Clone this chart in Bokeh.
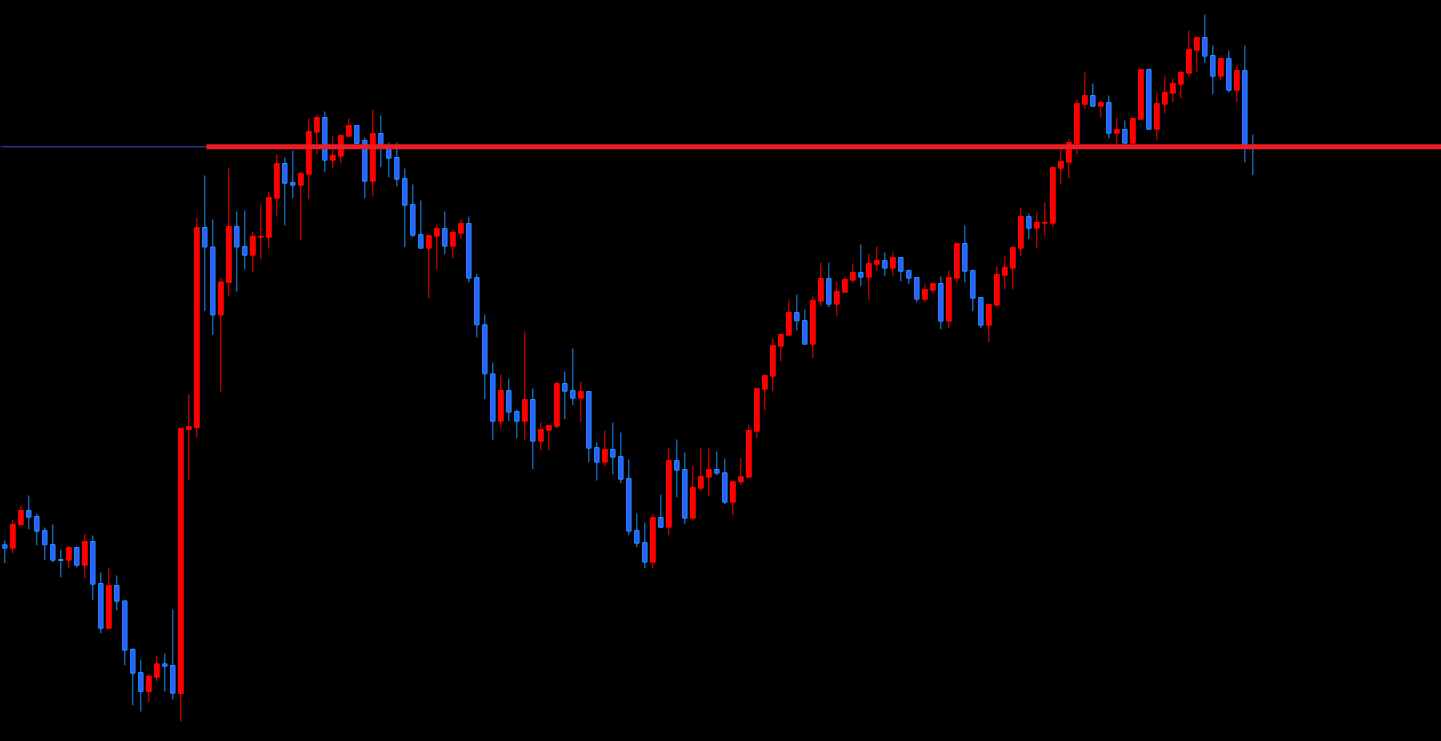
from bokeh.plotting import figure
from bokeh.models import Range1d, Span, ColumnDataSource
from bokeh.embed import file_html
from bokeh.resources import INLINE

# OHLC values (price units), one per bar
opens = [196.7, 193.3, 217, 231, 225, 211, 197, 182, 181.3, 194, 176.3, 200, 158, 113.3, 156, 140.6,
         92, 69, 50, 64.3, 77.7, 76, 48, 312, 314, 514, 494.5, 426.5, 459, 515, 495, 486.3, 504.3, 504.3,
         543.3, 578, 559, 556.3, 567.3, 609.3, 624, 581.3, 585.3, 605.3, 616, 601, 560.3, 608, 594, 584,
         563, 537, 507, 493.3, 505.3, 513, 495.3, 508.3, 518, 464, 416.7, 367.7, 320.3, 351, 330, 320.3,
         342, 300.3, 311.3, 315.3, 358, 351, 343.3, 350, 294, 279.3, 292, 285, 263, 211, 199, 179.3, 224,
         214.3, 281, 272, 223.3, 253.3, 264.3, 272, 268.7, 239.3, 259.7, 264.3, 310.3, 352.3, 365.3, 395.3,
         406.3, 429, 421, 397.3, 440.3, 463, 437.3, 449.3, 461.3, 469, 464.3, 477.3, 481, 473.3, 484, 471,
         464, 442.3, 451.3, 458, 420.3, 463.3, 498, 471, 444, 416.3, 436.3, 466.3, 473.3, 493.3, 525,
         513.3, 518.3, 518.3, 573.3, 579.3, 598, 637.3, 646, 635.3, 639, 608.3, 612, 598.3, 622.3, 672,
         612.3, 637.3, 648.3, 657.3, 668.3, 691.3, 704, 686, 665.3, 683, 651.3, 671, 595]
highs = [201, 222, 236, 246, 227.7, 214, 217, 191.7, 195.7, 195, 207.3, 206, 169, 174, 166, 141,
         93.7, 81.7, 67.2, 85.7, 88, 132, 313, 347, 524, 566, 522, 464, 573, 530, 531, 510, 537, 550,
         587, 584, 591, 570, 623, 627, 630, 605, 607, 623, 616, 604, 632, 626, 599, 599,
         573, 557, 541, 506, 517, 530, 512, 522, 525, 467.3, 427, 379, 367, 363, 332, 410,
         353, 319, 316, 360, 370, 393, 360, 350, 299, 311, 319, 309, 282, 228, 219, 228, 247,
         294, 302, 289, 276, 293, 293, 290, 283, 260.7, 283.7, 317, 353, 366, 403, 408,
         441, 447, 432, 445, 479, 479, 460, 465, 478, 497, 488, 495, 489, 489, 484, 472,
         464, 457, 458, 465, 471, 498, 516, 472, 444, 437, 475, 485, 495, 534, 528,
         530, 539, 575, 593, 603, 642, 669, 658, 641, 646, 624, 621, 624, 672, 673,
         649, 665, 663, 671, 711, 705, 727, 696, 683, 691, 676, 696, 607]
lows = [178.3, 188.3, 216, 212.3, 196.3, 181.3, 179.3, 164.3, 173.3, 174.3, 163.3, 141.3, 108.3, 112, 131.3, 76.3,
        36.3, 30, 39.2, 60.3, 50, 42, 20, 262, 304.3, 430.5, 406.5, 350, 445.4, 450, 472, 469.3, 482.3, 493.3,
        526, 516, 543.3, 501.3, 542.3, 587.3, 569.3, 573.3, 578.3, 605.3, 597.3, 543.3, 545.3, 574.3, 564.3, 555.3,
        494.3, 504.3, 493.3, 443.3, 472.3, 487.3, 483.3, 502.3, 459.3, 404, 342.3, 301.3, 313.3, 320.3, 303.3, 301.3,
        272.3, 291.3, 291.3, 313.3, 322.3, 336.3, 319.3, 279.3, 261, 275.3, 267.3, 258.3, 206.3, 194.3, 173.3, 173.3, 213.3,
        206.3, 244.3, 217.3, 221.3, 250.3, 245.3, 266.3, 237.3, 226.3, 256.3, 264.3, 303.3, 331.3, 350.3, 380.3,
        406.3, 411.3, 397.3, 383.3, 435.3, 434.3, 425.3, 448.3, 458.3, 455.3, 441.3, 470.3, 465.3, 465.3, 460.3, 457.3,
        439.3, 439.3, 448.3, 412.3, 413.3, 458.3, 459.3, 430.3, 413.3, 399.3, 435.3, 452.3, 452.3, 485.3, 502.3,
        493.3, 505.3, 514.3, 557.3, 563.3, 587.3, 632.3, 635.3, 624.3, 603.3, 597.7, 598.3, 597.7, 622.3, 612.3,
        601.3, 628.3, 639.3, 643.3, 664.3, 670, 678.3, 647.3, 661.3, 649.3, 639.3, 579.3, 566.3]
closes = [193.3, 217, 231, 224.3, 210.3, 196.7, 181.3, 181, 194, 176.3, 200, 157.3, 113.3, 156, 140.3, 91.3,
          68.3, 50, 65.4, 77.7, 75.2, 48.3, 313, 315, 514, 494.5, 426.5, 459.5, 515, 494.5, 486.3, 505, 505, 544,
          578, 558.3, 556.3, 568, 610, 624, 581.3, 586, 606, 616, 598, 560.3, 608, 595, 583.3, 562.3,
          536.3, 506.3, 493.3, 506, 513, 495.3, 509, 518, 463.3, 416.7, 367.7, 320.3, 351, 329.3, 320.3, 342,
          300.3, 312, 316, 358, 350.3, 343.3, 350, 293.3, 279.3, 292, 284.3, 262.3, 210.3, 198.3, 179.3, 224, 214.3,
          281, 271.3, 223.3, 254, 265, 272, 268.3, 239.3, 259.7, 264.7, 311, 353, 366, 396, 407,
          429, 420.7, 397.3, 441, 463, 437.3, 450, 462, 469, 464.3, 478, 481, 473.3, 484, 470.3, 463.3,
          442.3, 452, 458, 420.3, 464, 498, 470.3, 443.3, 416.3, 437, 467, 474, 494, 525, 513.3,
          519, 519, 574, 580, 599, 638, 646, 635.3, 639, 608.3, 612, 598.3, 623, 672, 612.3,
          638, 649, 658, 669, 692, 704, 685.3, 665.3, 683, 651.3, 671, 596, 594]

# Horizontal level line
level_price = 594.7
level_start_bar = 25.2

UP_COLOR = "#FF0000"
DOWN_FILL = "#2E5CFF"
DOWN_LINE = "#1E90FF"

n = len(opens)
idx = list(range(n))
up = [c >= o for o, c in zip(opens, closes)]
tops = [max(o, c) for o, c in zip(opens, closes)]
bots = [min(o, c) for o, c in zip(opens, closes)]

def sub(mask):
    sel = [i for i in idx if mask[i]]
    return ColumnDataSource(dict(
        x=sel,
        high=[highs[i] for i in sel],
        low=[lows[i] for i in sel],
        top=[tops[i] for i in sel],
        bottom=[bots[i] for i in sel],
    ))

src_up = sub(up)
src_dn = sub([not u for u in up])

p = figure(width=1441, height=741, output_backend="svg", toolbar_location=None,
           x_range=Range1d(-0.54, 179.58), y_range=Range1d(0, 741),
           background_fill_color="black", border_fill_color="black",
           min_border=0, min_border_left=0, min_border_right=0,
           min_border_top=0, min_border_bottom=0)
p.outline_line_color = None
p.xgrid.visible = False
p.ygrid.visible = False
p.xaxis.visible = False
p.yaxis.visible = False

thin = Span(location=level_price, dimension="width", line_color="#4848C8", line_width=1,
            level="underlay")
p.add_layout(thin)

p.segment(x0="x", y0="high", x1="x", y1="low", source=src_up, line_color=UP_COLOR, line_width=1)
p.segment(x0="x", y0="high", x1="x", y1="low", source=src_dn, line_color=DOWN_LINE, line_width=1)
p.vbar(x="x", top="top", bottom="bottom", width=0.6, source=src_up,
       fill_color=UP_COLOR, line_color=UP_COLOR, line_width=1)
p.vbar(x="x", top="top", bottom="bottom", width=0.55, source=src_dn,
       fill_color=DOWN_FILL, line_color=DOWN_LINE, line_width=1)

p.ray(x=[level_start_bar], y=[level_price], length=0, angle=0,
      line_color="#EE1C25", line_width=5)

template = """
{% block postamble %}
<style>html, body { margin: 0; padding: 0; background: #000; overflow: hidden; }</style>
{% endblock %}
"""

html = file_html(p, INLINE, "chart", template=template)
open("out.html", "w").write(html)
